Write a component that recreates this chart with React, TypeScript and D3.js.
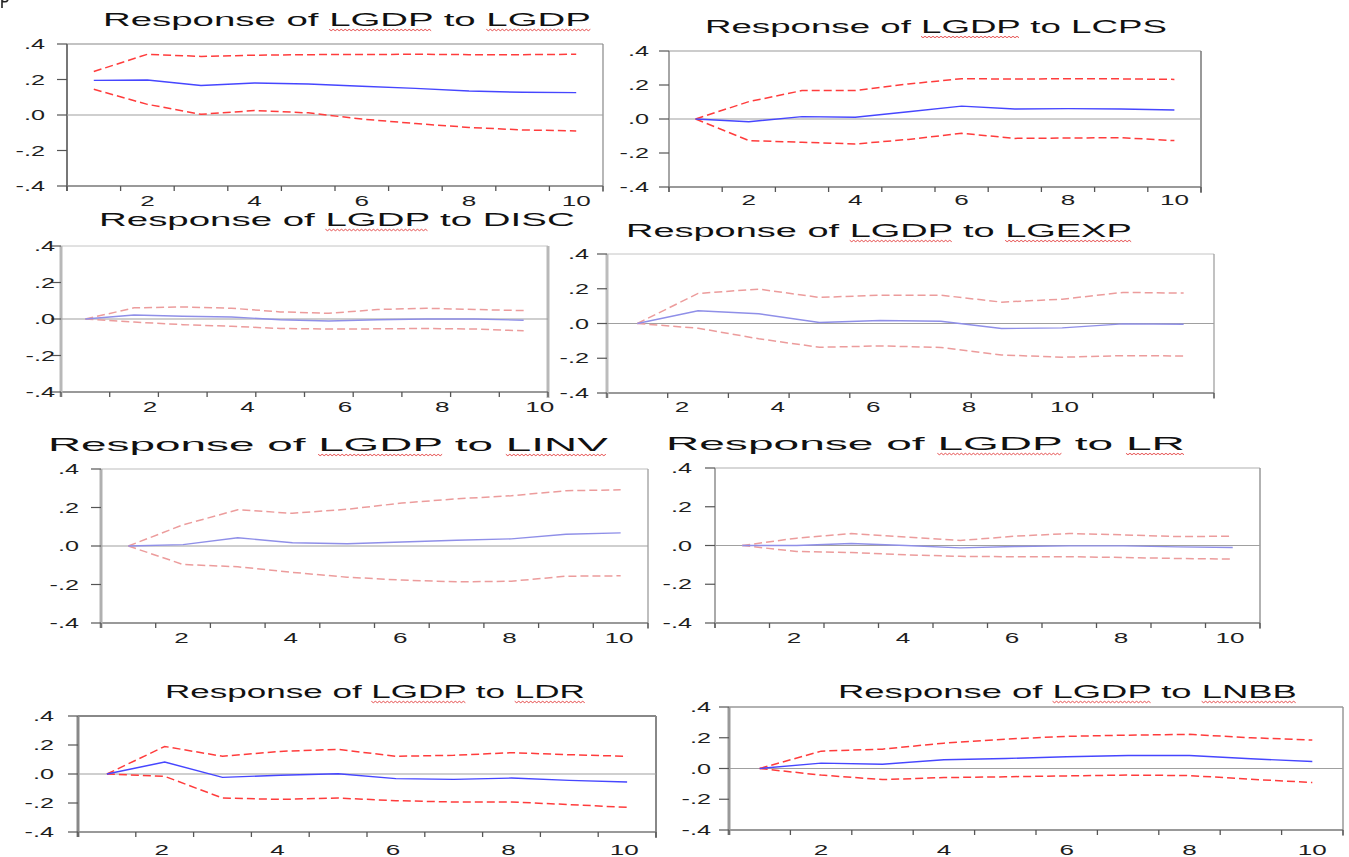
import React, { useEffect, useRef } from "react";
import * as d3 from "d3";

// impulse responses of LGDP, periods 1..10
const periods = [1, 2, 3, 4, 5, 6, 7, 8, 9, 10];
const xTickLabels = [2, 4, 6, 8, 10];
const yTicks = [-0.4, -0.2, 0, 0.2, 0.4];
const yTickLabels = ["-.4", "-.2", ".0", ".2", ".4"];

const respLGDP = [0.195, 0.197, 0.166, 0.18, 0.175, 0.162, 0.15, 0.135, 0.128, 0.126];
const upLGDP = [0.245, 0.342, 0.33, 0.337, 0.34, 0.341, 0.342, 0.34, 0.34, 0.342];
const loLGDP = [0.145, 0.06, 0.004, 0.025, 0.012, -0.023, -0.048, -0.07, -0.084, -0.09];

const respLCPS = [0, -0.016, 0.014, 0.01, 0.043, 0.076, 0.059, 0.061, 0.059, 0.053];
const upLCPS = [0, 0.102, 0.167, 0.167, 0.206, 0.237, 0.235, 0.237, 0.236, 0.233];
const loLCPS = [0, -0.127, -0.137, -0.147, -0.12, -0.084, -0.114, -0.112, -0.11, -0.127];

const respDISC = [0, 0.022, 0.015, 0.011, -0.004, -0.011, -0.004, 0, 0, -0.007];
const upDISC = [0, 0.061, 0.066, 0.059, 0.039, 0.031, 0.052, 0.059, 0.052, 0.046];
const loDISC = [0, -0.017, -0.031, -0.04, -0.052, -0.055, -0.054, -0.052, -0.055, -0.065];

const respLGEXP = [0, 0.073, 0.056, 0.006, 0.017, 0.013, -0.029, -0.025, -0.002, -0.004];
const upLGEXP = [0, 0.173, 0.198, 0.15, 0.163, 0.163, 0.123, 0.14, 0.179, 0.175];
const loLGEXP = [0, -0.027, -0.088, -0.137, -0.129, -0.138, -0.181, -0.194, -0.185, -0.187];

const respLINV = [0, 0.007, 0.043, 0.017, 0.012, 0.021, 0.03, 0.037, 0.061, 0.068];
const upLINV = [0, 0.11, 0.188, 0.17, 0.191, 0.223, 0.245, 0.261, 0.287, 0.292];
const loLINV = [0, -0.096, -0.108, -0.137, -0.162, -0.177, -0.186, -0.183, -0.157, -0.155];

const respLR = [0, 0, 0.01, 0, -0.012, -0.005, -0.002, -0.002, -0.007, -0.01];
const upLR = [0, 0.038, 0.062, 0.044, 0.026, 0.048, 0.062, 0.055, 0.046, 0.048];
const loLR = [0, -0.031, -0.036, -0.048, -0.056, -0.058, -0.058, -0.062, -0.067, -0.07];

const respLDR = [0, 0.083, -0.023, -0.009, 0.002, -0.032, -0.037, -0.028, -0.044, -0.055];
const upLDR = [0, 0.19, 0.122, 0.156, 0.17, 0.122, 0.129, 0.147, 0.133, 0.122];
const loLDR = [0, -0.016, -0.166, -0.175, -0.166, -0.184, -0.193, -0.193, -0.211, -0.23];

const respLNBB = [0, 0.035, 0.028, 0.057, 0.065, 0.076, 0.085, 0.085, 0.063, 0.046];
const upLNBB = [0, 0.113, 0.126, 0.165, 0.191, 0.209, 0.217, 0.222, 0.2, 0.185];
const loLNBB = [0, -0.043, -0.072, -0.059, -0.054, -0.048, -0.043, -0.046, -0.07, -0.091];

const shocks = ["LGDP", "LCPS", "DISC", "LGEXP", "LINV", "LR", "LDR", "LNBB"];
// words flagged by the spell checker (index of word in title)
const squiggled = [[2, 4], [2], [2], [2, 4], [2, 4], [2, 4], [2, 4], [2, 4]];

const BRIGHT = { blue: "#4646ff", red: "#ff3c3c" };
const FADED = { blue: "#8f8fe8", red: "#ec9c9c" };

// layout of the pasted panels (pixel boxes)
const panels = [
  { resp: respLGDP, up: upLGDP, lo: loLGDP, L: 67, R: 603, T: 44, B: 186, tx0: 103, tx1: 591, ty: 26, ly: 206, gap: 22, a: 0, b: 1, col: BRIGHT, lw: 2, lc: "#777", fc: "#888", fw: 1.2, rw: 1.2, rc: "#888" },
  { resp: respLCPS, up: upLCPS, lo: loLCPS, L: 669, R: 1201, T: 51, B: 187, tx0: 705, tx1: 1167, ty: 33, ly: 205, gap: 20, a: 0, b: 1, col: BRIGHT, lw: 1.5, lc: "#888", fc: "#999", fw: 1, rw: 1.5, rc: "#777" },
  { resp: respDISC, up: upDISC, lo: loDISC, L: 61, R: 548, T: 246, B: 392, tx0: 99, tx1: 575, ty: 226, ly: 412, gap: 6, a: 0.33, b: 1, col: FADED, lw: 3, lc: "#b8b8b8", fc: "#c4c4c4", fw: 1, rw: 3, rc: "#b8b8b8" },
  { resp: respLGEXP, up: upLGEXP, lo: loLGEXP, L: 607, R: 1214, T: 254, B: 393, tx0: 626, tx1: 1132, ty: 237, ly: 412, gap: 18, a: 0.1625, b: 0.7875, col: FADED, lw: 3, lc: "#bcbcbc", fc: "#c4c4c4", fw: 1, rw: 1.2, rc: "#999" },
  { resp: respLINV, up: upLINV, lo: loLINV, L: 101, R: 648, T: 469, B: 623, tx0: 48, tx1: 608, ty: 451, ly: 643, gap: 22, a: -0.03, b: 1, col: FADED, lw: 3, lc: "#b0b0b0", fc: "#bdbdbd", fw: 1.2, rw: 1.5, rc: "#aaa" },
  { resp: respLR, up: upLR, lo: loLR, L: 715, R: 1260, T: 468, B: 623, tx0: 666, tx1: 1185, ty: 450, ly: 643, gap: 23, a: -0.05, b: 1, col: FADED, lw: 2, lc: "#aaa", fc: "#b0b0b0", fw: 1.2, rw: 1.5, rc: "#999" },
  { resp: respLDR, up: upLDR, lo: loLDR, L: 78, R: 656, T: 716, B: 832, tx0: 165, tx1: 585, ty: 698, ly: 855, gap: 24, a: -0.05, b: 1, col: BRIGHT, lw: 3, lc: "#888", fc: "#888", fw: 2, rw: 2, rc: "#888" },
  { resp: respLNBB, up: upLNBB, lo: loLNBB, L: 729, R: 1343, T: 707, B: 830, tx0: 838, tx1: 1297, ty: 698, ly: 855, gap: 18, a: 0, b: 1, col: BRIGHT, lw: 3, lc: "#999", fc: "#999", fw: 1.5, rw: 1.5, rc: "#999" },
];

const FONT = "'Liberation Sans', Arial, sans-serif";
const SX = 1.8; // the scan is stretched horizontally

const App = () => {
  const ref = useRef<SVGSVGElement>(null);

  useEffect(() => {
    const svg = d3.select(ref.current);
    svg.selectAll("*").remove();

    // stray descender mark in the corner of the scan
    svg.append("path").attr("d", "M2,0 L2,8 M2,1 Q6,3 8,0")
      .attr("fill", "none").attr("stroke", "#222").attr("stroke-width", 1.6);

    panels.forEach((p, i) => {
      const g = svg.append("g");
      const x = d3.scaleLinear().domain([0.5, 10.5]).range([p.L, p.R]);
      const y = d3.scaleLinear().domain([-0.4, 0.4]).range([p.B, p.T]);

      // frame
      g.append("line").attr("x1", p.L).attr("x2", p.R).attr("y1", p.T).attr("y2", p.T)
        .attr("stroke", p.fc).attr("stroke-width", p.fw);
      g.append("line").attr("x1", p.R).attr("x2", p.R).attr("y1", p.T).attr("y2", p.B + 6)
        .attr("stroke", p.rc).attr("stroke-width", p.rw);
      g.append("line").attr("x1", p.L).attr("x2", p.R).attr("y1", p.B).attr("y2", p.B)
        .attr("stroke", "#777").attr("stroke-width", 1.3);
      g.append("line").attr("x1", p.L).attr("x2", p.L).attr("y1", p.T).attr("y2", p.B + 5)
        .attr("stroke", p.lc).attr("stroke-width", p.lw);

      // zero line
      g.append("line").attr("x1", p.L).attr("x2", p.R).attr("y1", y(0)).attr("y2", y(0))
        .attr("stroke", "#a0a0a0").attr("stroke-width", 1.2);

      // y ticks + labels
      yTicks.forEach((v, k) => {
        g.append("line").attr("x1", p.L - 10).attr("x2", p.L).attr("y1", y(v)).attr("y2", y(v))
          .attr("stroke", "#555").attr("stroke-width", 1.2);
        g.append("text")
          .attr("transform", `translate(${p.L - p.gap},${y(v) + 5}) scale(${SX},1)`)
          .attr("text-anchor", "end").attr("font-family", FONT).attr("font-size", 14)
          .attr("fill", "#1e1e1e").text(yTickLabels[k]);
      });

      // x ticks at band boundaries
      d3.range(0.5, 11, 1).forEach((v) => {
        g.append("line").attr("x1", x(v)).attr("x2", x(v)).attr("y1", p.B).attr("y2", p.B + 5)
          .attr("stroke", "#555").attr("stroke-width", 1.3);
      });
      xTickLabels.forEach((k) => {
        g.append("text")
          .attr("transform", `translate(${x(p.a + p.b * k)},${p.ly}) scale(${SX},1)`)
          .attr("text-anchor", "middle").attr("font-family", FONT).attr("font-size", 14.5)
          .attr("fill", "#1e1e1e").text(k);
      });

      // series
      const line = (vals: number[]) =>
        d3.line<number>().x((_, j) => x(periods[j])).y((d) => y(d))(vals);
      [p.up, p.lo].forEach((vals) => {
        g.append("path").attr("d", line(vals)).attr("fill", "none")
          .attr("stroke", p.col.red).attr("stroke-width", 1.5).attr("stroke-dasharray", "8,4");
      });
      g.append("path").attr("d", line(p.resp)).attr("fill", "none")
        .attr("stroke", p.col.blue).attr("stroke-width", 1.4);

      // title, stretched to the scanned width
      const title = `Response of LGDP to ${shocks[i]}`;
      const t = g.append("text").attr("font-family", FONT).attr("font-size", 18.5)
        .attr("fill", "#111").text(title);
      const node = t.node() as SVGTextElement;
      const natural = node.getComputedTextLength();
      const sx = (p.tx1 - p.tx0) / natural;
      t.attr("transform", `translate(${p.tx0},${p.ty}) scale(${sx},1)`);

      const words = title.split(" ");
      squiggled[i].forEach((wi) => {
        const start = words.slice(0, wi).join(" ").length + 1;
        const len = words[wi].length;
        const x0 = p.tx0 + node.getSubStringLength(0, start) * sx;
        const w = node.getSubStringLength(start, len) * sx;
        const pts: [number, number][] = d3.range(0, Math.floor(w / 2) + 1)
          .map((k) => [x0 + k * 2, p.ty + 3.5 + (k % 2 ? 1.2 : -0.2)]);
        g.append("path").attr("d", d3.line()(pts)).attr("fill", "none")
          .attr("stroke", "#e23b3b").attr("stroke-width", 0.9);
      });
    });
  }, []);

  return (
    <svg
      ref={ref}
      width={1349}
      height={857}
      style={{ position: "absolute", left: 0, top: 0, background: "#fff" }}
    />
  );
};

export default App;
